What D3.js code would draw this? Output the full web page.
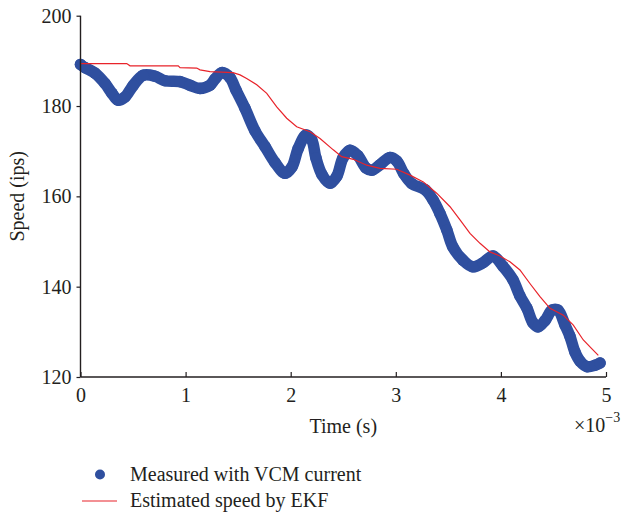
<!DOCTYPE html>
<html>
<head>
<meta charset="utf-8">
<script src="https://cdn.jsdelivr.net/npm/d3@7"></script>
<style>
  html, body { margin: 0; padding: 0; background: #fff; }
  svg { display: block; }
  text { font-family: "Liberation Serif", "DejaVu Serif", serif; fill: #231f20; }
</style>
</head>
<body>
<svg id="chart" width="625" height="513"></svg>
<script>
// Time axis in units of 1e-3 s
const xTicks = [0, 1, 2, 3, 4, 5];
const yTicks = [120, 140, 160, 180, 200];

// Speed measured with VCM current (ips)
const measuredTime = [0, 0.043, 0.138, 0.233, 0.30, 0.357, 0.423, 0.50, 0.595, 0.709, 0.804, 0.947, 1.041, 1.137, 1.232, 1.28, 1.346, 1.422, 1.48, 1.565, 1.66, 1.756, 1.85, 1.945, 2.012, 2.07, 2.146, 2.2, 2.24, 2.298, 2.374, 2.44, 2.497, 2.564, 2.64, 2.716, 2.773, 2.85, 2.945, 3.01, 3.077, 3.154, 3.277, 3.354, 3.42, 3.486, 3.543, 3.638, 3.733, 3.83, 3.925, 4.02, 4.115, 4.18, 4.248, 4.305, 4.353, 4.42, 4.486, 4.543, 4.61, 4.657, 4.705, 4.753, 4.82, 4.895, 4.943];
const measuredSpeed = [189.2, 188.5, 187.3, 185.0, 182.8, 181.3, 182.0, 184.5, 186.8, 186.6, 185.6, 185.4, 184.6, 183.9, 184.6, 186.0, 187.4, 186.3, 183.5, 179.5, 174.5, 171.0, 167.5, 165.1, 166.5, 170.5, 173.6, 172.5, 168.5, 164.8, 162.9, 164.5, 168.5, 170.2, 169.0, 166.3, 165.8, 167.0, 168.6, 167.8, 165.0, 162.8, 161.5, 159.2, 156.2, 152.5, 148.8, 145.9, 144.4, 145.3, 146.8, 144.5, 141.5, 138.0, 135.2, 132.0, 131.1, 132.5, 134.8, 134.8, 131.5, 129.0, 125.5, 123.5, 122.3, 122.6, 123.1];

// Speed estimated by the EKF (ips)
const ekfTime = [0.005, 0.44, 0.471, 0.93, 0.947, 1.106, 1.137, 1.232, 1.451, 1.518, 1.581, 1.677, 1.772, 1.867, 1.962, 2.057, 2.184, 2.279, 2.405, 2.485, 2.596, 2.723, 2.85, 3.009, 3.135, 3.262, 3.389, 3.516, 3.611, 3.706, 3.801, 3.896, 3.991, 4.086, 4.181, 4.276, 4.372, 4.467, 4.594, 4.689, 4.784, 4.864, 4.927];
const ekfSpeed = [189.4, 189.4, 188.9, 188.9, 188.5, 188.4, 188.0, 187.6, 187.4, 186.9, 186.1, 184.7, 182.8, 179.8, 177.3, 175.4, 174.3, 172.8, 170.3, 168.8, 168.2, 166.9, 166.2, 166.0, 164.7, 163.2, 160.7, 157.7, 154.8, 151.8, 149.6, 147.7, 146.8, 145.5, 143.7, 140.7, 137.8, 135.2, 133.7, 131.5, 128.2, 126.3, 124.8];

const legendLabels = ["Measured with VCM current", "Estimated speed by EKF"];

const blue = "#2f4f9f";
const red = "#e8232a";
const axisColor = "#231f20";

const svg = d3.select("#chart");
const x = d3.scaleLinear().domain([0, 5]).range([80.5, 606]);
const y = d3.scaleLinear().domain([120, 200]).range([377, 15.7]);

const measured = measuredTime.map((t, i) => ({ t, v: measuredSpeed[i] }));
const ekf = ekfTime.map((t, i) => ({ t, v: ekfSpeed[i] }));

// Measured trace: dense markers drawn as a thick band plus dots
const plot = svg.append("g");
plot.append("path")
  .datum(measured)
  .attr("fill", "none")
  .attr("stroke", blue)
  .attr("stroke-width", 11.5)
  .attr("stroke-linecap", "round")
  .attr("stroke-linejoin", "round")
  .attr("d", d3.line().x(d => x(d.t)).y(d => y(d.v)).curve(d3.curveCatmullRom));
plot.selectAll("circle.m")
  .data(measured)
  .join("circle")
  .attr("class", "m")
  .attr("cx", d => x(d.t))
  .attr("cy", d => y(d.v))
  .attr("r", 5.8)
  .attr("fill", blue);

// EKF estimate
plot.append("path")
  .datum(ekf)
  .attr("fill", "none")
  .attr("stroke", red)
  .attr("stroke-width", 1.2)
  .attr("d", d3.line().x(d => x(d.t)).y(d => y(d.v)));

// Axes
const fontSize = 20;
const yAxis = svg.append("g")
  .attr("transform", `translate(${x(0)},0)`)
  .call(d3.axisLeft(y).tickValues(yTicks).tickSize(4).tickPadding(5).tickFormat(d3.format("d")));
const xAxis = svg.append("g")
  .attr("transform", `translate(0,${y(120)})`)
  .call(d3.axisBottom(x).tickValues(xTicks).tickSize(-5).tickPadding(11).tickFormat(d3.format("d")));
[yAxis, xAxis].forEach(g => {
  g.select(".domain").attr("stroke", axisColor).attr("stroke-width", 1.4);
  g.selectAll(".tick line").attr("stroke", axisColor).attr("stroke-width", 1.2);
  g.selectAll(".tick text")
    .attr("fill", axisColor)
    .style("font-family", "'Liberation Serif', serif")
    .style("font-size", fontSize + "px");
});
yAxis.select(".domain").attr("d", `M0,${y(120)}V${y(200)}`);
xAxis.select(".domain").attr("d", `M${x(0)},0H${x(5)}`);
xAxis.selectAll(".tick text").attr("dy", "0.71em");

// Axis titles
svg.append("text")
  .attr("x", (x(0) + x(5)) / 2)
  .attr("y", 433)
  .attr("text-anchor", "middle")
  .style("font-size", fontSize + "px")
  .text("Time (s)");

svg.append("text")
  .attr("transform", `translate(24,${(y(120) + y(200)) / 2}) rotate(-90)`)
  .attr("text-anchor", "middle")
  .style("font-size", fontSize + "px")
  .text("Speed (ips)");

// Exponent of the time axis
const expo = svg.append("text")
  .attr("x", 574)
  .attr("y", 432)
  .style("font-size", fontSize + "px");
expo.append("tspan").text("\u00d710");
expo.append("tspan").attr("dy", -10).style("font-size", "14px").text("\u22123");

// Legend
const legend = svg.append("g");
legend.append("circle").attr("cx", 100).attr("cy", 474.5).attr("r", 5).attr("fill", blue);
legend.append("line").attr("x1", 82).attr("x2", 117).attr("y1", 501).attr("y2", 501)
  .attr("stroke", red).attr("stroke-width", 1.2);
legend.selectAll("text.lg")
  .data(legendLabels)
  .join("text")
  .attr("class", "lg")
  .attr("x", 130)
  .attr("y", (d, i) => 480.5 + i * 26.5)
  .style("font-size", fontSize + "px")
  .text(d => d);
</script>
</body>
</html>
